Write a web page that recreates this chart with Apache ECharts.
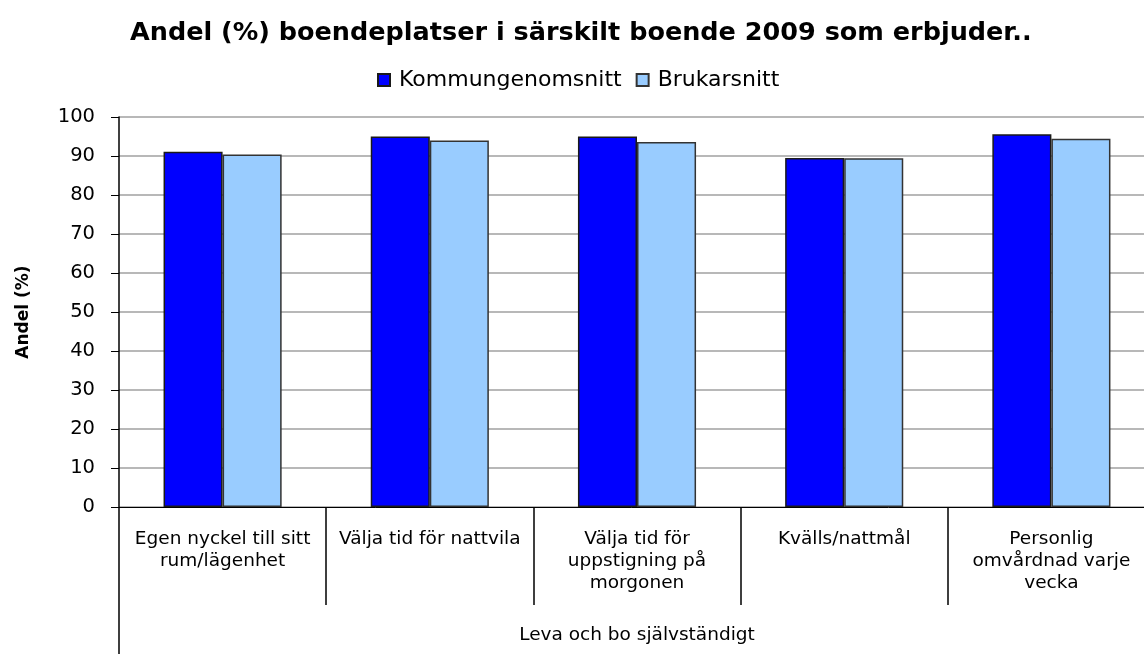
<!DOCTYPE html>
<html>
<head>
<meta charset="utf-8">
<script src="https://cdn.jsdelivr.net/npm/echarts@6/dist/echarts.min.js"></script>
<style>
  html, body { margin: 0; padding: 0; background: #fff; }
  #chart { width: 1144px; height: 654px; }
</style>
</head>
<body>
<div id="chart"></div>
<script>
'use strict';

// data
const categories = [
    'Egen nyckel till sitt\nrum/lägenhet',
    'Välja tid för nattvila',
    'Välja tid för\nuppstigning på\nmorgonen',
    'Kvälls/nattmål',
    'Personlig\nomvårdnad varje\nvecka',
];
const groupLabel = ['Leva och bo självständigt'];
const kommun = [91.1, 95.0, 95.0, 89.5, 95.6];
const brukare = [90.4, 94.0, 93.6, 89.4, 94.4];
const seriesNames = ['Kommungenomsnitt', 'Brukarsnitt'];

const font = 'DejaVu Sans';
const chart = echarts.init(document.getElementById('chart'));

chart.setOption({
    animation: false,
    backgroundColor: '#fff',
    title: {
        text: 'Andel (%) boendeplatser i särskilt boende 2009 som erbjuder..',
        left: 130,
        top: 20,
        padding: 0,
        textStyle: { fontFamily: font, fontSize: 25.5, fontWeight: 'bold', color: '#000' },
    },
    legend: {
        data: seriesNames,
        left: 372,
        top: 64,
        itemWidth: 12,
        itemHeight: 12,
        itemGap: 14,
        icon: 'rect',
        textStyle: { fontFamily: font, fontSize: 22, color: '#000', padding: [0, 0, 0, 4] },
    },
    grid: {
        left: 119,
        right: -11,
        top: 117,
        bottom: 147,
        containLabel: false,
        outerBoundsMode: 'none',
    },
    xAxis: [
        {
            type: 'category',
            data: categories,
            position: 'bottom',
            axisLine: { show: true, lineStyle: { color: '#000', width: 1 } },
            axisTick: { show: true, interval: 0, length: 98, lineStyle: { color: '#000', width: 1.5 } },
            axisLabel: {
                interval: 0, margin: 21, fontFamily: font, fontSize: 18.5,
                lineHeight: 22, color: '#000', align: 'center',
            },
            splitLine: { show: false },
        },
        {
            type: 'category',
            data: groupLabel,
            position: 'bottom',
            offset: 98,
            axisLine: { show: false },
            axisTick: { show: true, interval: 0, length: 50, lineStyle: { color: '#000', width: 1.5 } },
            axisLabel: { margin: 21, fontFamily: font, fontSize: 18.5, color: '#000' },
        },
    ],
    yAxis: {
        type: 'value',
        min: 0,
        max: 100,
        interval: 10,
        name: 'Andel (%)',
        nameLocation: 'middle',
        nameRotate: 90,
        nameGap: 87,
        nameTextStyle: { fontFamily: font, fontSize: 17, fontWeight: 'bold', color: '#000' },
        axisLine: { show: true, lineStyle: { color: '#000', width: 1.5 } },
        axisTick: { show: true, length: 8, lineStyle: { color: '#000' } },
        axisLabel: { margin: 24, fontFamily: font, fontSize: 19.5, color: '#000' },
        splitLine: { show: true, lineStyle: { color: '#a0a0a0', width: 1.5 } },
    },
    series: [
        {
            name: seriesNames[0],
            type: 'bar',
            data: kommun,
            barGap: '0%',
            barCategoryGap: '43%',
            itemStyle: { color: '#0000ff', borderColor: '#1a1a1a', borderWidth: 1.5 },
        },
        {
            name: seriesNames[1],
            type: 'bar',
            data: brukare,
            itemStyle: { color: '#99ccff', borderColor: '#333', borderWidth: 1.5 },
        },
    ],
});
</script>
</body>
</html>
